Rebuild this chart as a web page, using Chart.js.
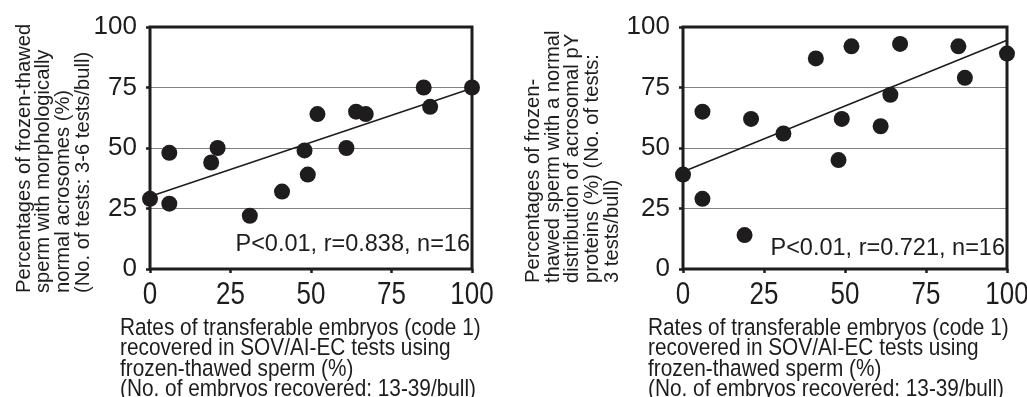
<!DOCTYPE html>
<html><head><meta charset="utf-8">
<script src="https://cdn.jsdelivr.net/npm/chart.js@4/dist/chart.umd.min.js"></script>
<style>
html,body{margin:0;padding:0;background:#fff;}
body{width:1027px;height:397px;position:relative;overflow:hidden;}
.box{position:absolute;top:0;height:397px;}
#b1{left:0;width:510px;}
#b2{left:510px;width:527px;}
</style></head><body>
<div class="box" id="b1"><canvas id="c1"></canvas></div>
<div class="box" id="b2"><canvas id="c2"></canvas></div>
<script>
// ---- data ----
const embryoRates     = [0, 6, 6, 19, 21, 31, 41, 48, 49, 52, 61, 64, 67, 85, 87, 100];
const normalAcrosomes = [29, 48, 27, 44, 50, 22, 32, 49, 39, 64, 50, 65, 64, 75, 67, 75];
const normalPY        = [39, 65, 29, 14, 62, 56, 87, 45, 62, 92, 59, 72, 93, 92, 79, 89];
const fitX       = [0, 100];
const fitLeftY   = [30, 74.7];
const fitRightY  = [40.2, 94.5];
const tickValues = [0, 25, 50, 75, 100];
const statsLeft  = 'P<0.01, r=0.838, n=16';
const statsRight = 'P<0.01, r=0.721, n=16';
const xTitle = ['Rates of transferable embryos (code 1)', 'recovered in SOV/AI-EC tests using', 'frozen-thawed sperm (%)', '(No. of embryos recovered: 13-39/bull)'];
const yTitleLeft = ['Percentages of frozen-thawed', 'sperm with morphologically', 'normal acrosomes (%)', '(No. of tests: 3-6 tests/bull)'];
const yTitleRight = ['Percentages of frozen-', 'thawed sperm with a normal', 'distribution of acrosomal pY', 'proteins (%) (No. of tests:', '3 tests/bull)'];

const INK = '#1e1c1d';
const FONT = '"Liberation Sans", Arial, sans-serif';
const X_LABEL_STRETCH = 1.2;

function pts(xs, ys){ return xs.map((x,i)=>({x, y: ys[i]})); }

const decor = {
  id: 'decor',
  afterLayout(chart){
    const sx = chart.scales.x;
    if (sx && !sx._stretched){
      sx._stretched = true;
      const orig = sx.drawLabels.bind(sx);
      sx.drawLabels = function(area){
        const ctx = this.ctx, y0 = this.top;
        ctx.save();
        ctx.translate(0, y0); ctx.scale(1, X_LABEL_STRETCH); ctx.translate(0, -y0);
        orig(area);
        ctx.restore();
      };
    }
  },
  beforeDatasetsDraw(chart){
    const {ctx, chartArea:a} = chart;
    ctx.save();
    ctx.strokeStyle = INK; ctx.lineWidth = 3;
    ctx.strokeRect(a.left, a.top, a.right - a.left, a.bottom - a.top);
    ctx.restore();
  },
  afterDraw(chart, args, o){
    const {ctx, chartArea:a} = chart;
    ctx.save();
    ctx.fillStyle = INK;
    // stats
    ctx.font = '23.5px ' + FONT;
    ctx.textAlign = 'right'; ctx.textBaseline = 'alphabetic';
    ctx.fillText(o.stats, a.right - 2, o.statsY);
    // x title (slightly tall glyphs as in the source)
    ctx.font = '20.8px ' + FONT;
    ctx.textAlign = 'left';
    o.xTitle.forEach((t,i)=>{
      ctx.save();
      ctx.translate(o.xTitleX, o.xTitleY + i*20.3);
      ctx.scale(1, 1.18);
      ctx.fillText(t, 0, 0);
      ctx.restore();
    });
    // y title
    ctx.font = '20.2px ' + FONT;
    o.yTitle.forEach((t,i)=>{
      ctx.save();
      ctx.translate(o.yTitleX + i*19.7, o.yTitleY);
      ctx.rotate(-Math.PI/2);
      ctx.fillText(t, 0, 0);
      ctx.restore();
    });
    ctx.restore();
  }
};

function makeChart(id, ys, fitY, yW, padR, deco){
  return new Chart(document.getElementById(id), {
    type: 'scatter',
    data: {
      datasets: [
        { data: pts(embryoRates, ys), pointRadius: 8, pointHoverRadius: 8,
          backgroundColor: INK, borderColor: INK, borderWidth: 0, clip: false },
        { type: 'line', data: pts(fitX, fitY), showLine: true, pointRadius: 0,
          borderColor: INK, borderWidth: 1.6, fill: false, clip: false }
      ]
    },
    options: {
      responsive: true, maintainAspectRatio: false, animation: false,
      events: [],
      layout: { padding: { left: 0, top: 27, right: padR, bottom: 0 } },
      plugins: { legend: { display: false }, tooltip: { enabled: false }, decor: deco },
      scales: {
        x: {
          type: 'linear', min: 0, max: 100,
          afterBuildTicks: s => { s.ticks = tickValues.map(v=>({value:v})); },
          afterFit: s => { s.height = 128; },
          grid: { display: true, drawOnChartArea: false, drawTicks: true, tickLength: 4, tickColor: INK, tickWidth: 2.5 },
          border: { display: false },
          ticks: { autoSkip: false, maxRotation: 0, padding: 2, color: INK, font: { family: FONT, size: 26 } }
        },
        y: {
          type: 'linear', min: 0, max: 100,
          afterBuildTicks: s => { s.ticks = tickValues.map(v=>({value:v})); },
          afterFit: s => { s.width = yW; },
          grid: { color: '#808080', lineWidth: 1, drawTicks: true, tickLength: 4, tickColor: INK, tickWidth: 2.5 },
          border: { display: false },
          ticks: { autoSkip: false, padding: 9, color: INK, font: { family: FONT, size: 26 } }
        }
      }
    },
    plugins: [decor]
  });
}

makeChart('c1', normalAcrosomes, fitLeftY, 150, 38, {
  stats: statsLeft, statsY: 251,
  xTitle: xTitle, xTitleX: 120, xTitleY: 335,
  yTitle: yTitleLeft, yTitleX: 29.5, yTitleY: 293
});
makeChart('c2', normalPY, fitRightY, 173, 30, {
  stats: statsRight, statsY: 255,
  xTitle: xTitle, xTitleX: 138, xTitleY: 335,
  yTitle: yTitleRight, yTitleX: 29, yTitleY: 283
});
</script>
</body></html>
